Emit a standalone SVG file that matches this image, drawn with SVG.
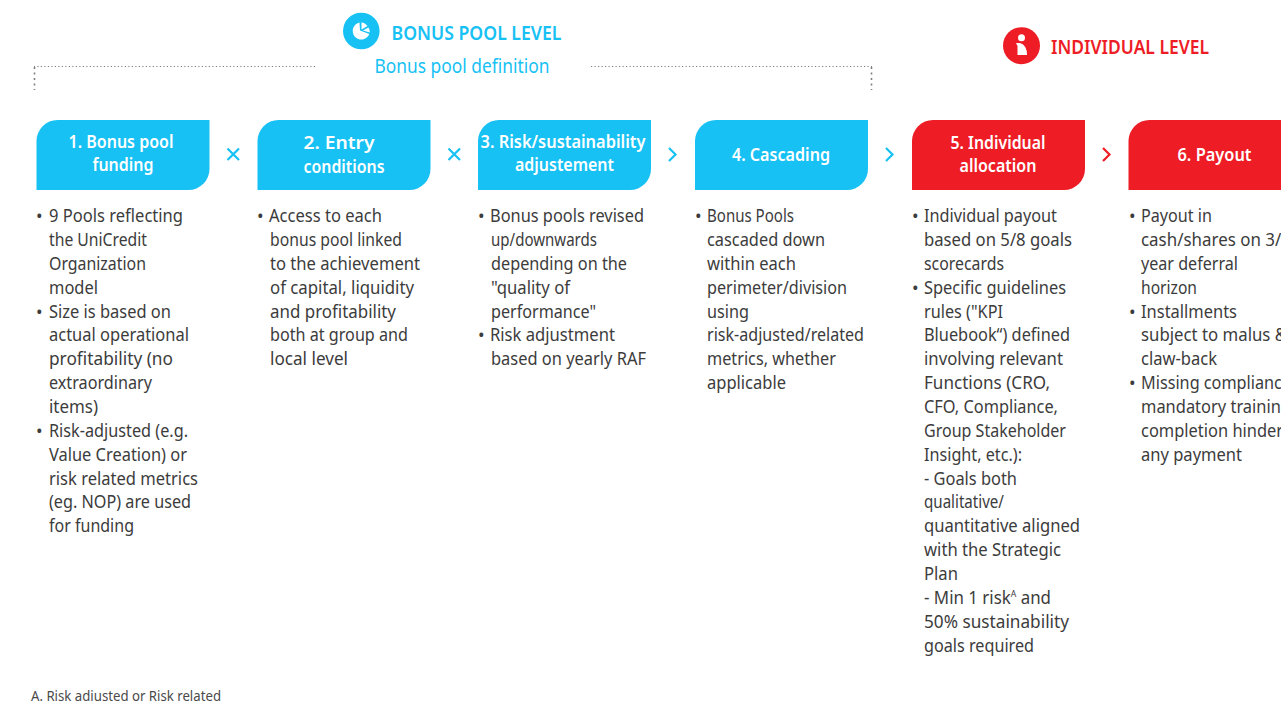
<svg xmlns="http://www.w3.org/2000/svg" width="1281" height="701" viewBox="0 0 1281 701">
<style>
text{font-family:"Noto Sans","Liberation Sans",sans-serif}
.b{font-size:17.5px;fill:#3c3c3c}
.t{font-size:18px;font-weight:600;fill:#fff;text-anchor:middle}
.blue{fill:#17c1f4}.red{fill:#ee1c25}
.dot{fill:none;stroke:#808080;stroke-width:1.2;stroke-dasharray:1.2 2.3}
.dotv{fill:none;stroke:#808080;stroke-width:1.6;stroke-dasharray:2 3.5}
.op{fill:none;stroke-width:2.2}
.h{font-size:19px;font-weight:600}
</style>
<defs>
<path id="box" d="M21 0H173V49A21 21 0 0 1 152 70H0V21A21 21 0 0 1 21 0Z"/>
</defs>
<rect width="1281" height="701" fill="#fff"/>
<g id="header-bonus">
<path class="dot" d="M315 66.500H34M591 66.500H872"/>
<path class="dotv" d="M34.500 67V90M871.500 67V90"/>
<circle class="blue" cx="361.300" cy="31" r="18.300"/>
<path fill="#fff" d="M359.500 22.500A8.600 8.600 0 1 0 369.300 34L360 30.500Z"/>
<path fill="#fff" d="M361.500 22.300A8.600 8.600 0 0 1 367.500 26L361.500 29.500ZM363 30.500L368.500 27.500A8.600 8.600 0 0 1 369.800 32.500Z"/>
<text class="h blue" x="391.500" y="40" textLength="170" lengthAdjust="spacingAndGlyphs">BONUS POOL LEVEL</text>
<text class="blue" x="374.500" y="73" font-size="19.500" textLength="175" lengthAdjust="spacingAndGlyphs">Bonus pool definition</text>
</g>
<g id="header-individual">
<circle class="red" cx="1021.500" cy="45.700" r="18.500"/>
<circle cx="1021.500" cy="37.700" r="3.500" fill="#fff"/>
<path fill="#fff" d="M1016 43L1020 43Q1027 45 1027 55H1017.500V46Z"/>
<text class="h red" x="1051" y="54" textLength="158" lengthAdjust="spacingAndGlyphs">INDIVIDUAL LEVEL</text>
</g>
<g id="connectors">
<path class="op" stroke="#17c1f4" d="M227.500 148.500L239 160M239 148.500L227.500 160M448.500 148.500L460 160M460 148.500L448.500 160"/>
<path class="op" stroke="#17c1f4" d="M669 148L675.500 154.500L669 161M886 148L892.500 154.500L886 161"/>
<path class="op" stroke="#ee1c25" d="M1103 148L1109.500 154.500L1103 161"/>
</g>
<g id="node-1">
<use href="#box" class="blue" x="36.500" y="120"/>
<text class="t" x="121" y="148" textLength="105" lengthAdjust="spacingAndGlyphs">1. Bonus pool</text>
<text class="t" x="123" y="171" textLength="61" lengthAdjust="spacingAndGlyphs">funding</text>
<g class="b">
<text x="36" y="222">•</text><text x="49" y="222" textLength="134" lengthAdjust="spacingAndGlyphs">9 Pools reflecting</text>
<text x="49" y="246" textLength="98" lengthAdjust="spacingAndGlyphs">the UniCredit</text>
<text x="49" y="270" textLength="97" lengthAdjust="spacingAndGlyphs">Organization</text>
<text x="49" y="294" textLength="49" lengthAdjust="spacingAndGlyphs">model</text>
<text x="36" y="318">•</text><text x="49" y="318" textLength="122" lengthAdjust="spacingAndGlyphs">Size is based on</text>
<text x="49" y="341" textLength="140" lengthAdjust="spacingAndGlyphs">actual operational</text>
<text x="49" y="365" textLength="124" lengthAdjust="spacingAndGlyphs">profitability (no</text>
<text x="49" y="389" textLength="103" lengthAdjust="spacingAndGlyphs">extraordinary</text>
<text x="49" y="413" textLength="49" lengthAdjust="spacingAndGlyphs">items)</text>
<text x="36" y="437">•</text><text x="49" y="437" textLength="139" lengthAdjust="spacingAndGlyphs">Risk-adjusted (e.g.</text>
<text x="49" y="461" textLength="138" lengthAdjust="spacingAndGlyphs">Value Creation) or</text>
<text x="49" y="485" textLength="149" lengthAdjust="spacingAndGlyphs">risk related metrics</text>
<text x="49" y="508" textLength="142" lengthAdjust="spacingAndGlyphs">(eg. NOP) are used</text>
<text x="49" y="532" textLength="85" lengthAdjust="spacingAndGlyphs">for funding</text>
</g>
</g>
<g id="node-2">
<use href="#box" class="blue" x="257.500" y="120"/>
<text class="t" x="339" y="149" textLength="71" lengthAdjust="spacingAndGlyphs">2. Entry</text>
<text class="t" x="344" y="173" textLength="81" lengthAdjust="spacingAndGlyphs">conditions</text>
<g class="b">
<text x="257" y="222">•</text><text x="269" y="222" textLength="113" lengthAdjust="spacingAndGlyphs">Access to each</text>
<text x="270" y="246" textLength="132" lengthAdjust="spacingAndGlyphs">bonus pool linked</text>
<text x="270" y="270" textLength="150" lengthAdjust="spacingAndGlyphs">to the achievement</text>
<text x="270" y="294" textLength="144" lengthAdjust="spacingAndGlyphs">of capital, liquidity</text>
<text x="270" y="318" textLength="126" lengthAdjust="spacingAndGlyphs">and profitability</text>
<text x="270" y="341" textLength="138" lengthAdjust="spacingAndGlyphs">both at group and</text>
<text x="270" y="365" textLength="78" lengthAdjust="spacingAndGlyphs">local level</text>
</g>
</g>
<g id="node-3">
<use href="#box" class="blue" x="478" y="120"/>
<text class="t" x="563" y="148" textLength="165" lengthAdjust="spacingAndGlyphs">3. Risk/sustainability</text>
<text class="t" x="564.500" y="171" textLength="99" lengthAdjust="spacingAndGlyphs">adjustement</text>
<g class="b">
<text x="478" y="222">•</text><text x="490" y="222" textLength="154" lengthAdjust="spacingAndGlyphs">Bonus pools revised</text>
<text x="491" y="246" textLength="106" lengthAdjust="spacingAndGlyphs">up/downwards</text>
<text x="491" y="270" textLength="136" lengthAdjust="spacingAndGlyphs">depending on the</text>
<text x="491" y="294" textLength="79" lengthAdjust="spacingAndGlyphs">"quality of</text>
<text x="491" y="318" textLength="105" lengthAdjust="spacingAndGlyphs">performance"</text>
<text x="478" y="341">•</text><text x="490" y="341" textLength="125" lengthAdjust="spacingAndGlyphs">Risk adjustment</text>
<text x="491" y="365" textLength="155" lengthAdjust="spacingAndGlyphs">based on yearly RAF</text>
</g>
</g>
<g id="node-4">
<use href="#box" class="blue" x="695" y="120"/>
<text class="t" x="781" y="161" textLength="98" lengthAdjust="spacingAndGlyphs">4. Cascading</text>
<g class="b">
<text x="695" y="222">•</text><text x="707" y="222" textLength="87" lengthAdjust="spacingAndGlyphs">Bonus Pools</text>
<text x="707" y="246" textLength="118" lengthAdjust="spacingAndGlyphs">cascaded down</text>
<text x="707" y="270" textLength="89" lengthAdjust="spacingAndGlyphs">within each</text>
<text x="707" y="294" textLength="140" lengthAdjust="spacingAndGlyphs">perimeter/division</text>
<text x="707" y="318" textLength="42" lengthAdjust="spacingAndGlyphs">using</text>
<text x="707" y="341" textLength="157" lengthAdjust="spacingAndGlyphs">risk-adjusted/related</text>
<text x="707" y="365" textLength="129" lengthAdjust="spacingAndGlyphs">metrics, whether</text>
<text x="707" y="389" textLength="79" lengthAdjust="spacingAndGlyphs">applicable</text>
</g>
</g>
<g id="node-5">
<use href="#box" class="red" x="912" y="120"/>
<text class="t" x="998" y="149" textLength="95" lengthAdjust="spacingAndGlyphs">5. Individual</text>
<text class="t" x="998" y="172" textLength="77" lengthAdjust="spacingAndGlyphs">allocation</text>
<g class="b">
<text x="912" y="222">•</text><text x="924" y="222" textLength="133" lengthAdjust="spacingAndGlyphs">Individual payout</text>
<text x="924" y="246" textLength="148" lengthAdjust="spacingAndGlyphs">based on 5/8 goals</text>
<text x="924" y="270" textLength="80" lengthAdjust="spacingAndGlyphs">scorecards</text>
<text x="912" y="294">•</text><text x="924" y="294" textLength="142" lengthAdjust="spacingAndGlyphs">Specific guidelines</text>
<text x="924" y="318" textLength="79" lengthAdjust="spacingAndGlyphs">rules ("KPI</text>
<text x="924" y="341" textLength="146" lengthAdjust="spacingAndGlyphs">Bluebook“) defined</text>
<text x="924" y="365" textLength="139" lengthAdjust="spacingAndGlyphs">involving relevant</text>
<text x="924" y="389" textLength="126" lengthAdjust="spacingAndGlyphs">Functions (CRO,</text>
<text x="924" y="413" textLength="134" lengthAdjust="spacingAndGlyphs">CFO, Compliance,</text>
<text x="924" y="437" textLength="142" lengthAdjust="spacingAndGlyphs">Group Stakeholder</text>
<text x="924" y="461" textLength="98" lengthAdjust="spacingAndGlyphs">Insight, etc.):</text>
<text x="924" y="485" textLength="93" lengthAdjust="spacingAndGlyphs">- Goals both</text>
<text x="924" y="508" textLength="80" lengthAdjust="spacingAndGlyphs">qualitative/</text>
<text x="924" y="532" textLength="156" lengthAdjust="spacingAndGlyphs">quantitative aligned</text>
<text x="924" y="556" textLength="137" lengthAdjust="spacingAndGlyphs">with the Strategic</text>
<text x="924" y="580" textLength="34" lengthAdjust="spacingAndGlyphs">Plan</text>
<text x="924" y="604" textLength="127" lengthAdjust="spacingAndGlyphs">- Min 1 risk<tspan font-size="9" dy="-7">A</tspan><tspan dy="7"> and</tspan></text>
<text x="924" y="628" textLength="145" lengthAdjust="spacingAndGlyphs">50% sustainability</text>
<text x="924" y="652" textLength="110" lengthAdjust="spacingAndGlyphs">goals required</text>
</g>
</g>
<g id="node-6">
<use href="#box" class="red" x="1128.500" y="120"/>
<text class="t" x="1214.500" y="161" textLength="74" lengthAdjust="spacingAndGlyphs">6. Payout</text>
<g class="b">
<text x="1129" y="222">•</text><text x="1141" y="222" textLength="71" lengthAdjust="spacingAndGlyphs">Payout in</text>
<text x="1141" y="246" textLength="150" lengthAdjust="spacingAndGlyphs">cash/shares on 3/5</text>
<text x="1141" y="270" textLength="97" lengthAdjust="spacingAndGlyphs">year deferral</text>
<text x="1141" y="294" textLength="56" lengthAdjust="spacingAndGlyphs">horizon</text>
<text x="1129" y="318">•</text><text x="1141" y="318" textLength="96" lengthAdjust="spacingAndGlyphs">Installments</text>
<text x="1141" y="341" textLength="146" lengthAdjust="spacingAndGlyphs">subject to malus &amp;</text>
<text x="1141" y="365" textLength="76" lengthAdjust="spacingAndGlyphs">claw-back</text>
<text x="1129" y="389">•</text><text x="1141" y="389" textLength="150" lengthAdjust="spacingAndGlyphs">Missing compliance</text>
<text x="1141" y="413" textLength="150" lengthAdjust="spacingAndGlyphs">mandatory training</text>
<text x="1141" y="437" textLength="150" lengthAdjust="spacingAndGlyphs">completion hinders</text>
<text x="1141" y="461" textLength="101" lengthAdjust="spacingAndGlyphs">any payment</text>
</g>
</g>
<text id="footnote" x="31" y="701" font-size="13.500" fill="#4a4a4a" textLength="190" lengthAdjust="spacingAndGlyphs">A. Risk adjusted or Risk related</text>
</svg>
